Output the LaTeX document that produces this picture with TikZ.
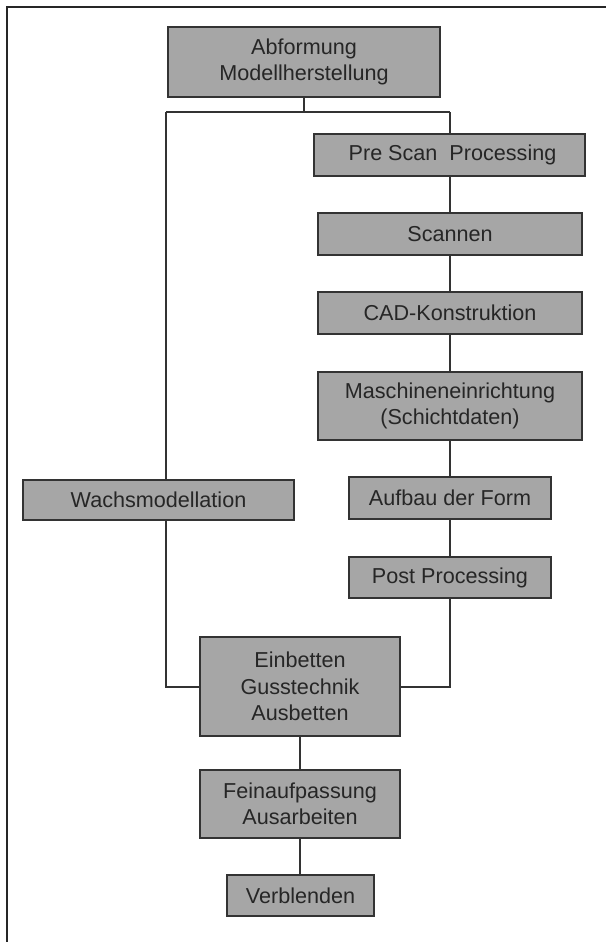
\documentclass[tikz,border=0pt]{standalone}
\usepackage{fontspec}
\setmainfont{Liberation Sans}
\definecolor{boxgray}{HTML}{A6A6A6}
\definecolor{edgegray}{HTML}{333333}
\begin{document}
\begin{tikzpicture}[x=1pt,y=-1pt,
  box/.style={draw=edgegray, line width=2pt, fill=boxgray, inner sep=0pt,
    align=center, font=\fontsize{21.6}{26.5}\selectfont, text=black!85},
  conn/.style={draw=edgegray, line width=2pt}]
\useasboundingbox (0,0) rectangle (606,942);
\fill[white] (0,0) rectangle (606,942);
\draw[line width=2pt, draw=black!85] (7,942) -- (7,7) -- (606,7);

\node[box, minimum width=272pt, minimum height=70pt] (top) at (304,62) {Abformung\\Modellherstellung};
\node[box, minimum width=271pt, minimum height=42pt] (pre) at (449.5,155) {\hspace*{6pt}Pre Scan\ \ Processing};
\node[box, minimum width=264pt, minimum height=42pt] (scan) at (450,234) {Scannen};
\node[box, minimum width=264pt, minimum height=42pt] (cad) at (450,313) {CAD-Konstruktion};
\node[box, minimum width=264pt, minimum height=68pt] (masch) at (450,406) {Maschineneinrichtung\\(Schichtdaten)};
\node[box, minimum width=202pt, minimum height=42pt] (aufbau) at (450,498) {Aufbau der Form};
\node[box, minimum width=202pt, minimum height=41pt] (post) at (450,577.5) {Post Processing};
\node[box, minimum width=271pt, minimum height=40pt] (wachs) at (158.5,500) {Wachsmodellation};
\node[box, minimum width=200pt, minimum height=99pt] (ein) at (300,686.5) {Einbetten\\Gusstechnik\\Ausbetten};
\node[box, minimum width=200pt, minimum height=68pt] (fein) at (300,804) {Feinaufpassung\\Ausarbeiten};
\node[box, minimum width=147pt, minimum height=41pt] (verb) at (300.5,895.5) {Verblenden};

\coordinate (bl) at (166,112);
\coordinate (br) at (450,112);

\draw[conn] (top.south) -- (top.south |- bl);
\draw[conn] (bl) -- (br);
\draw[conn] (br) -- (br |- pre.north);
\draw[conn] (pre.south -| br) -- (scan.north -| br);
\draw[conn] (scan.south) -- (cad.north);
\draw[conn] (cad.south) -- (masch.north);
\draw[conn] (masch.south) -- (aufbau.north);
\draw[conn] (aufbau.south) -- (post.north);
\draw[conn] (bl) -- (bl |- wachs.north);
\draw[conn] (bl |- wachs.south) -- (bl |- ein.west) -- (ein.west);
\draw[conn] (post.south) -- (post.south |- ein.east) -- (ein.east);
\draw[conn] (ein.south) -- (fein.north);
\draw[conn] (fein.south) -- (verb.north -| fein.south);
\end{tikzpicture}
\end{document}
